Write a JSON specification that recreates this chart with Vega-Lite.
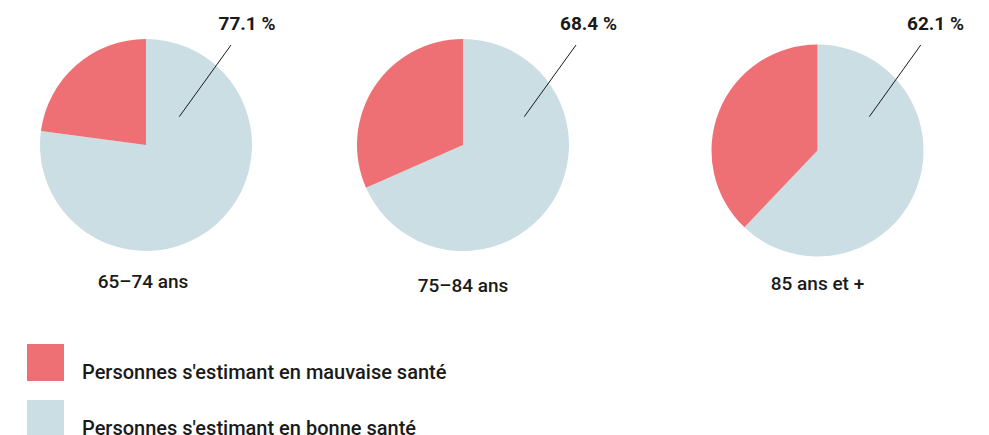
{
  "$schema": "https://vega.github.io/schema/vega-lite/v6.json",
  "padding": 0,
  "spacing": 0,
  "bounds": "flush",
  "background": "white",
  "config": {"view": {"stroke": null}, "font": "Roboto"},
  "data": {"values": [
    {"groupe": "65–74 ans", "etat": "Personnes s'estimant en bonne santé", "valeur": 77.1},
    {"groupe": "65–74 ans", "etat": "Personnes s'estimant en mauvaise santé", "valeur": 22.9},
    {"groupe": "75–84 ans", "etat": "Personnes s'estimant en bonne santé", "valeur": 68.4},
    {"groupe": "75–84 ans", "etat": "Personnes s'estimant en mauvaise santé", "valeur": 31.6},
    {"groupe": "85 ans et +", "etat": "Personnes s'estimant en bonne santé", "valeur": 62.1},
    {"groupe": "85 ans et +", "etat": "Personnes s'estimant en mauvaise santé", "valeur": 37.9}
  ]},
  "resolve": {"scale": {"x": "independent", "y": "independent", "theta": "independent", "color": "shared"}, "legend": {"color": "shared"}},
  "hconcat": [
    {
      "width": 300, "height": 435,
      "transform": [{"filter": {"field": "groupe", "equal": "65–74 ans"}}],
      "layer": [
        {
          "mark": {"type": "arc", "outerRadius": 106, "strokeWidth": 0},
          "encoding": {
            "x": {"datum": 0, "type": "quantitative", "scale": {"domain": [-1.3774, 1.4528], "nice": false, "zero": false}, "axis": null},
            "y": {"datum": 0, "type": "quantitative", "scale": {"domain": [-2.7358, 1.3679], "nice": false, "zero": false}, "axis": null},
            "theta": {"field": "valeur", "type": "quantitative", "stack": true},
            "order": {"field": "etat", "sort": "ascending"},
            "color": {"field": "etat", "type": "nominal",
              "scale": {"domain": ["Personnes s'estimant en mauvaise santé", "Personnes s'estimant en bonne santé"], "range": ["#EE7074", "#CADEE3"]},
              "legend": {"orient": "none", "legendX": 27, "legendY": 344, "title": null, "symbolType": "square", "symbolSize": 1369, "symbolStrokeWidth": 0, "symbolOpacity": 1, "labelFontSize": 20, "labelFont": "Roboto", "labelFontWeight": 500, "labelColor": "#1a1a1a", "labelBaseline": "top", "labelOffset": 18, "labelLimit": 600, "rowPadding": 17, "padding": 0}}
          }
        },
        {
          "transform": [{"filter": {"field": "etat", "equal": "Personnes s'estimant en bonne santé"}}],
          "mark": {"type": "rule", "color": "#1a1a1a", "strokeWidth": 1},
          "encoding": {
            "x": {"datum": 0.314, "type": "quantitative", "scale": {"domain": [-1.3774, 1.4528], "nice": false, "zero": false}, "axis": null},
            "y": {"datum": 0.267, "type": "quantitative", "scale": {"domain": [-2.7358, 1.3679], "nice": false, "zero": false}, "axis": null},
            "x2": {"datum": 0.802}, "y2": {"datum": 0.943}
          }
        },
        {
          "transform": [{"filter": {"field": "etat", "equal": "Personnes s'estimant en bonne santé"}}, {"calculate": "format(datum.valeur, '.1f') + ' %'", "as": "label"}],
          "mark": {"type": "text", "align": "center", "baseline": "alphabetic", "fontSize": 19, "fontWeight": "bold", "color": "#1a1a1a"},
          "encoding": {
            "x": {"datum": 0.953, "type": "quantitative", "scale": {"domain": [-1.3774, 1.4528], "nice": false, "zero": false}, "axis": null},
            "y": {"datum": 1.085, "type": "quantitative", "scale": {"domain": [-2.7358, 1.3679], "nice": false, "zero": false}, "axis": null},
            "text": {"field": "label"}
          }
        },
        {
          "transform": [{"filter": {"field": "etat", "equal": "Personnes s'estimant en bonne santé"}}],
          "mark": {"type": "text", "align": "center", "baseline": "alphabetic", "fontSize": 19, "fontWeight": 500, "color": "#1a1a1a"},
          "encoding": {
            "x": {"datum": -0.028, "type": "quantitative", "scale": {"domain": [-1.3774, 1.4528], "nice": false, "zero": false}, "axis": null},
            "y": {"datum": -1.349, "type": "quantitative", "scale": {"domain": [-2.7358, 1.3679], "nice": false, "zero": false}, "axis": null},
            "text": {"field": "groupe"}
          }
        }
      ]
    },
    {
      "width": 340, "height": 435,
      "transform": [{"filter": {"field": "groupe", "equal": "75–84 ans"}}],
      "layer": [
        {
          "mark": {"type": "arc", "outerRadius": 106, "strokeWidth": 0},
          "encoding": {
            "x": {"datum": 0, "type": "quantitative", "scale": {"domain": [-1.5377, 1.6698], "nice": false, "zero": false}, "axis": null},
            "y": {"datum": 0, "type": "quantitative", "scale": {"domain": [-2.7358, 1.3679], "nice": false, "zero": false}, "axis": null},
            "theta": {"field": "valeur", "type": "quantitative", "stack": true},
            "order": {"field": "etat", "sort": "ascending"},
            "color": {"field": "etat", "type": "nominal"}
          }
        },
        {
          "transform": [{"filter": {"field": "etat", "equal": "Personnes s'estimant en bonne santé"}}],
          "mark": {"type": "rule", "color": "#1a1a1a", "strokeWidth": 1},
          "encoding": {
            "x": {"datum": 0.578, "type": "quantitative", "scale": {"domain": [-1.5377, 1.6698], "nice": false, "zero": false}, "axis": null},
            "y": {"datum": 0.267, "type": "quantitative", "scale": {"domain": [-2.7358, 1.3679], "nice": false, "zero": false}, "axis": null},
            "x2": {"datum": 1.066}, "y2": {"datum": 0.943}
          }
        },
        {
          "transform": [{"filter": {"field": "etat", "equal": "Personnes s'estimant en bonne santé"}}, {"calculate": "format(datum.valeur, '.1f') + ' %'", "as": "label"}],
          "mark": {"type": "text", "align": "center", "baseline": "alphabetic", "fontSize": 19, "fontWeight": "bold", "color": "#1a1a1a"},
          "encoding": {
            "x": {"datum": 1.184, "type": "quantitative", "scale": {"domain": [-1.5377, 1.6698], "nice": false, "zero": false}, "axis": null},
            "y": {"datum": 1.085, "type": "quantitative", "scale": {"domain": [-2.7358, 1.3679], "nice": false, "zero": false}, "axis": null},
            "text": {"field": "label"}
          }
        },
        {
          "transform": [{"filter": {"field": "etat", "equal": "Personnes s'estimant en bonne santé"}}],
          "mark": {"type": "text", "align": "center", "baseline": "alphabetic", "fontSize": 19, "fontWeight": 500, "color": "#1a1a1a"},
          "encoding": {
            "x": {"datum": 0, "type": "quantitative", "scale": {"domain": [-1.5377, 1.6698], "nice": false, "zero": false}, "axis": null},
            "y": {"datum": -1.387, "type": "quantitative", "scale": {"domain": [-2.7358, 1.3679], "nice": false, "zero": false}, "axis": null},
            "text": {"field": "groupe"}
          }
        }
      ]
    },
    {
      "width": 349, "height": 435,
      "transform": [{"filter": {"field": "groupe", "equal": "85 ans et +"}}],
      "layer": [
        {
          "mark": {"type": "arc", "outerRadius": 106, "strokeWidth": 0},
          "encoding": {
            "x": {"datum": 0, "type": "quantitative", "scale": {"domain": [-1.6745, 1.6179], "nice": false, "zero": false}, "axis": null},
            "y": {"datum": 0, "type": "quantitative", "scale": {"domain": [-2.684, 1.4198], "nice": false, "zero": false}, "axis": null},
            "theta": {"field": "valeur", "type": "quantitative", "stack": true},
            "order": {"field": "etat", "sort": "ascending"},
            "color": {"field": "etat", "type": "nominal"}
          }
        },
        {
          "transform": [{"filter": {"field": "etat", "equal": "Personnes s'estimant en bonne santé"}}],
          "mark": {"type": "rule", "color": "#1a1a1a", "strokeWidth": 1},
          "encoding": {
            "x": {"datum": 0.489, "type": "quantitative", "scale": {"domain": [-1.6745, 1.6179], "nice": false, "zero": false}, "axis": null},
            "y": {"datum": 0.319, "type": "quantitative", "scale": {"domain": [-2.684, 1.4198], "nice": false, "zero": false}, "axis": null},
            "x2": {"datum": 0.974}, "y2": {"datum": 0.995}
          }
        },
        {
          "transform": [{"filter": {"field": "etat", "equal": "Personnes s'estimant en bonne santé"}}, {"calculate": "format(datum.valeur, '.1f') + ' %'", "as": "label"}],
          "mark": {"type": "text", "align": "center", "baseline": "alphabetic", "fontSize": 19, "fontWeight": "bold", "color": "#1a1a1a"},
          "encoding": {
            "x": {"datum": 1.113, "type": "quantitative", "scale": {"domain": [-1.6745, 1.6179], "nice": false, "zero": false}, "axis": null},
            "y": {"datum": 1.137, "type": "quantitative", "scale": {"domain": [-2.684, 1.4198], "nice": false, "zero": false}, "axis": null},
            "text": {"field": "label"}
          }
        },
        {
          "transform": [{"filter": {"field": "etat", "equal": "Personnes s'estimant en bonne santé"}}],
          "mark": {"type": "text", "align": "center", "baseline": "alphabetic", "fontSize": 19, "fontWeight": 500, "color": "#1a1a1a"},
          "encoding": {
            "x": {"datum": 0, "type": "quantitative", "scale": {"domain": [-1.6745, 1.6179], "nice": false, "zero": false}, "axis": null},
            "y": {"datum": -1.316, "type": "quantitative", "scale": {"domain": [-2.684, 1.4198], "nice": false, "zero": false}, "axis": null},
            "text": {"field": "groupe"}
          }
        }
      ]
    }
  ]
}
